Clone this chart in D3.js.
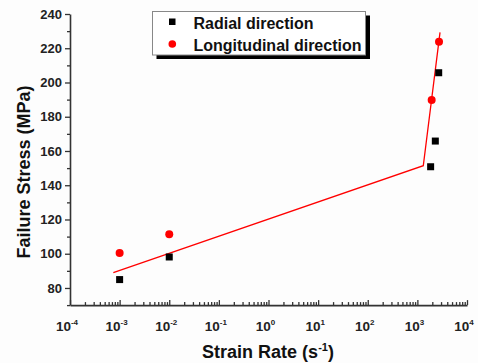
<!DOCTYPE html>
<html><head><meta charset="utf-8">
<script src="https://cdn.jsdelivr.net/npm/d3@7"></script>
<style>body{margin:0;background:#fff}svg{display:block;font-family:Arial,"Liberation Sans",sans-serif}</style>
</head><body><svg id="c" width="478" height="363"></svg>
<script>
const radialRate = [1e-3, 1e-2, 1850, 2300, 2690];
const radialStress = [84.9, 98.1, 150.8, 165.8, 205.7];
const longRate = [1e-3, 1e-2, 1940, 2730];
const longStress = [100.4, 111.4, 189.8, 223.8];
const fitRate = [7.46e-4, 1315, 2860];
const fitStress = [88.9, 151.4, 229.3];
const xTickExps = [-4, -3, -2, -1, 0, 1, 2, 3, 4];
const yTicks = [80, 100, 120, 140, 160, 180, 200, 220, 240];
const legendLabels = ["Radial direction", "Longitudinal direction"];

const svg = d3.select("#c");
svg.append("rect").attr("width",478).attr("height",363).attr("fill","#fdfdfd");
const x = d3.scaleLog().domain([1e-4, 1e4]).range([70, 467]);
const y = d3.scaleLinear().domain([70, 240]).range([305.1, 14]);
const axisCol = "#333";

// Y axis
const gy = svg.append("g").attr("transform","translate(70,0)");
gy.call(d3.axisLeft(y).tickValues(yTicks).tickSize(5).tickFormat(d3.format("d")).tickSizeOuter(0));
gy.append("g").call(d3.axisLeft(y).tickValues(d3.range(70, 241, 10).filter(v => v % 20 !== 0)).tickSize(3).tickFormat("").tickSizeOuter(0))
  .select(".domain").remove();
gy.selectAll("path.domain").attr("stroke",axisCol).attr("stroke-width",1.6);
gy.selectAll("line").attr("stroke",axisCol).attr("stroke-width",1.3);
gy.selectAll("text").attr("font-size",13).attr("font-weight","bold").attr("fill","#222").attr("x",-8);

// X axis
const gx = svg.append("g").attr("transform","translate(0,305.1)");
gx.call(d3.axisBottom(x).tickValues(xTickExps.map(e => Math.pow(10,e))).tickSize(-5).tickFormat("").tickSizeOuter(0));
const minor = [];
for (let e = -4; e < 4; e++) for (let m = 2; m <= 9; m++) minor.push(m*Math.pow(10,e));
gx.append("g").call(d3.axisBottom(x).tickValues(minor).tickSize(-3).tickFormat("").tickSizeOuter(0)).select(".domain").remove();
gx.selectAll("path.domain").attr("stroke",axisCol).attr("stroke-width",1.6);
gx.selectAll("line").attr("stroke",axisCol).attr("stroke-width",1.3);
xTickExps.forEach(e => {
  const t = gx.append("text").attr("x", x(Math.pow(10,e)) - 3).attr("y", 26)
    .attr("text-anchor","middle").attr("font-size",13.5).attr("font-weight","bold").attr("fill","#222");
  t.append("tspan").text("10");
  t.append("tspan").attr("dy",-6).attr("font-size",8).text(String(e));
});

// Titles
svg.append("text").attr("transform","translate(30,172) rotate(-90)").attr("text-anchor","middle")
  .attr("font-size",18).attr("font-weight","bold").attr("fill","#111").text("Failure Stress (MPa)");
const xt = svg.append("text").attr("x",268).attr("y",358).attr("text-anchor","middle")
  .attr("font-size",18).attr("font-weight","bold").attr("fill","#111");
xt.append("tspan").text("Strain Rate (s");
xt.append("tspan").attr("dy",-7).attr("font-size",11).text("-1");
xt.append("tspan").attr("dy",7).text(")");

// Fit line
const line = d3.line().x(d => x(d[0])).y(d => y(d[1]));
svg.append("path").datum(fitRate.map((r,i) => [r, fitStress[i]])).attr("d", line)
  .attr("fill","none").attr("stroke","#f00").attr("stroke-width",1.3);

// Points
svg.selectAll("rect.rad").data(radialRate.map((r,i)=>[r,radialStress[i]])).enter().append("rect")
  .attr("x", d => x(d[0]) - 3.5).attr("y", d => y(d[1]) - 3.5).attr("width",7).attr("height",7).attr("fill","#000");
svg.selectAll("circle.lon").data(longRate.map((r,i)=>[r,longStress[i]])).enter().append("circle")
  .attr("cx", d => x(d[0])).attr("cy", d => y(d[1])).attr("r",4).attr("fill","#f00");

// Legend
const lg = svg.append("g");
lg.append("rect").attr("x",156.5).attr("y",15.5).attr("width",213.5).attr("height",43.5).attr("fill","#000");
lg.append("rect").attr("x",152.5).attr("y",11.5).attr("width",213).attr("height",43.5).attr("fill","#fff").attr("stroke","#888").attr("stroke-width",1);
lg.append("rect").attr("x",169).attr("y",18.5).attr("width",6.5).attr("height",6.5).attr("fill","#000");
lg.append("circle").attr("cx",172.3).attr("cy",44).attr("r",3.8).attr("fill","#f00");
legendLabels.forEach((t,i) => {
  lg.append("text").attr("x",193.5).attr("y",29 + i*22).attr("font-size",16).attr("font-weight","bold").attr("fill","#111").text(t);
});
</script></body></html>
